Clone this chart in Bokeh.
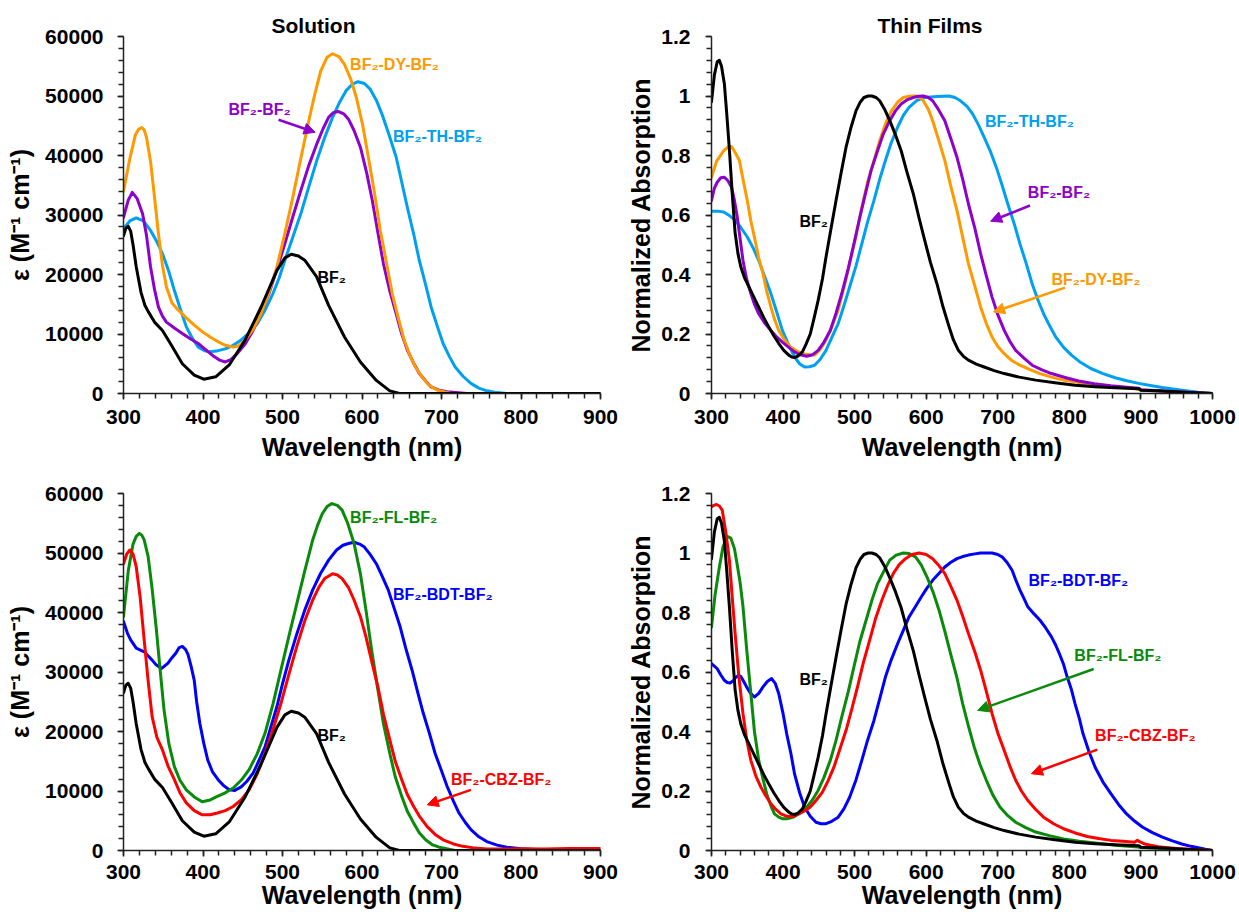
from bokeh.plotting import figure
from bokeh.layouts import column, row
from bokeh.models import Range1d, FixedTicker, Arrow, NormalHead, Title
from bokeh.core.properties import value
from bokeh.embed import file_html
from bokeh.resources import INLINE

# ---------------- colours ----------------
C_BLACK = "#000000"
C_ORANGE = "#FF9900"
C_SKY = "#00A0F0"
C_PURPLE = "#8E00CC"
C_GREEN = "#0A8A0A"
C_RED = "#FF0000"
C_BLUE = "#0000FF"

FONT = "Liberation Sans"

# ---------------- tick labels ----------------
sol_x_ticks = [300, 400, 500, 600, 700, 800, 900]
film_x_ticks = [300, 400, 500, 600, 700, 800, 900, 1000]
sol_y_ticks = [0, 10000, 20000, 30000, 40000, 50000, 60000]
film_y_ticks = [0, 0.2, 0.4, 0.6, 0.8, 1.0, 1.2]
film_y_labels = ["0", "0.2", "0.4", "0.6", "0.8", "1", "1.2"]

# ---------------- Solution data ----------------
sol_bf2_x = [300, 303, 306, 309, 312, 316, 322, 327, 331, 339, 349, 359, 374, 389, 401, 416, 433,
             453, 473, 493, 503, 511, 520, 528, 543, 558, 578, 598, 618, 635, 647, 700, 800, 900]
sol_bf2_y = [26500, 27800, 28100, 27300, 25000, 21300, 17000, 14800, 13800, 12000, 10600, 8400,
             5000, 3100, 2400, 2800, 4800, 9000, 14500, 20700, 22800, 23400, 23100, 22400, 19600,
             14800, 9500, 5300, 2200, 450, 0, 0, 0, 0]

sol_dy_x = [300, 308, 315, 319, 323, 326, 329, 334, 339, 344, 349, 354, 361, 369, 379, 389, 399,
            409, 419, 428, 438, 445, 453, 463, 473, 483, 493, 503, 513, 523, 533, 541, 548, 556,
            563, 571, 578, 586, 593, 601, 608, 616, 623, 631, 638, 646, 653, 660, 667, 675, 682,
            690, 697, 712, 800, 900]
sol_dy_y = [34000, 39500, 43500, 44400, 44700, 44300, 43000, 39000, 33000, 26800, 21500, 17900,
            15200, 14000, 12700, 11500, 10400, 9500, 8700, 8100, 7800, 8000, 9000, 10800, 13400,
            17000, 21300, 26900, 33000, 39500, 45800, 50500, 54200, 56500, 57100, 56600, 55300,
            52800, 49700, 45000, 39700, 33500, 27400, 21800, 16800, 12500, 9000, 6500, 4500, 2900,
            1700, 900, 450, 0, 0, 0]

sol_th_x = [300, 308, 316, 325, 334, 342, 349, 357, 364, 372, 379, 387, 394, 402, 409, 419, 428,
            438, 448, 458, 468, 478, 488, 496, 503, 513, 523, 533, 543, 553, 563, 572, 580, 588,
            595, 603, 610, 618, 625, 634, 643, 650, 657, 665, 672, 680, 687, 695, 702, 710, 717,
            727, 737, 747, 757, 770, 782, 900]
sol_th_y = [27700, 29000, 29500, 29000, 27400, 25500, 23500, 20500, 17300, 14000, 11200, 9200,
            7800, 7200, 7000, 7200, 7500, 8100, 9000, 10200, 11700, 14000, 16800, 19500, 22400,
            26300, 30200, 34700, 39100, 43000, 46400, 49000, 50900, 52000, 52400, 52100, 51200,
            49300, 47000, 43500, 39700, 35500, 31300, 26800, 22400, 18300, 14500, 11200, 8400,
            6200, 4500, 2900, 1700, 900, 450, 150, 0, 0]

sol_bb_x = [300, 306, 311, 317, 324, 329, 334, 339, 344, 349, 354, 364, 374, 384, 394, 404, 414,
            421, 428, 435, 443, 453, 463, 473, 483, 493, 503, 513, 523, 533, 543, 551, 558, 564,
            570, 577, 583, 590, 598, 606, 613, 620, 627, 635, 643, 650, 657, 665, 672, 680, 687,
            697, 707, 732, 900]
sol_bb_y = [29600, 32500, 33800, 32800, 30200, 26500, 21300, 17500, 14500, 13000, 12000, 11000,
            10100, 9200, 8400, 7300, 6200, 5600, 5300, 5700, 6700, 8300, 10600, 13500, 16800,
            20900, 25200, 29700, 34100, 38300, 41900, 44500, 46400, 47200, 47400, 47000, 46100,
            44200, 41400, 37000, 32400, 27000, 21800, 17200, 13400, 10000, 7300, 5100, 3400,
            2100, 1100, 550, 280, 0, 0]

sol_fl_x = [300, 306, 312, 316, 320, 323, 326, 331, 336, 341, 346, 351, 357, 364, 371, 379, 389,
            399, 409, 418, 428, 438, 448, 458, 468, 478, 488, 498, 508, 518, 528, 538, 544, 550,
            556, 562, 569, 575, 582, 590, 598, 605, 612, 620, 627, 635, 642, 650, 657, 665, 672,
            680, 688, 697, 717, 900]
sol_fl_y = [39300, 47000, 51500, 52800, 53300, 53000, 52200, 49400, 44000, 37600, 30500, 23600,
            18000, 14100, 11800, 10200, 9000, 8200, 8500, 9100, 9700, 10500, 11800, 13600, 16200,
            19700, 24600, 30300, 36000, 41500, 47000, 52200, 54600, 56600, 57800, 58300, 58000,
            57200, 55000, 51600, 46500, 40400, 33800, 27000, 21300, 16300, 12300, 9100, 6600,
            4600, 3000, 1800, 1000, 560, 0, 0]

sol_cbz_x = [300, 304, 308, 312, 316, 321, 326, 331, 336, 342, 349, 356, 364, 371, 379, 389, 399,
             409, 418, 428, 438, 448, 458, 468, 478, 488, 498, 508, 518, 528, 538, 546, 553, 563,
             569, 575, 583, 590, 598, 605, 612, 620, 627, 635, 642, 650, 657, 665, 673, 682, 692,
             702, 715, 727, 742, 757, 780, 800, 830, 860, 900]
sol_cbz_y = [48200, 49800, 50500, 49800, 47700, 42500, 35400, 28500, 22500, 19000, 16900, 14200,
             11900, 9700, 8000, 6700, 6000, 6000, 6300, 6700, 7400, 8500, 10200, 12800, 16300,
             20300, 24700, 29600, 34300, 38600, 42100, 44300, 45700, 46500, 46300, 45700, 44200,
             42100, 39300, 35900, 31900, 27500, 22900, 18600, 14900, 11900, 9400, 7400, 5600,
             4000, 2700, 1800, 1100, 700, 400, 250, 250, 300, 250, 350, 350]

sol_bdt_x = [300, 305, 309, 316, 326, 336, 341, 348, 356, 361, 366, 370, 374, 378, 381, 385, 389,
             392, 396, 401, 406, 412, 419, 426, 433, 440, 448, 455, 463, 470, 478, 485, 493, 500,
             508, 518, 528, 538, 548, 558, 568, 576, 583, 590, 597, 603, 610, 618, 625, 633, 640,
             648, 655, 663, 670, 677, 685, 692, 700, 707, 715, 722, 730, 737, 747, 757, 770, 782,
             800, 817, 840, 867, 900]
sol_bdt_y = [38500, 36500, 35400, 34000, 33400, 32000, 31200, 30600, 31500, 32400, 33200, 34100,
             34300, 33800, 33000, 31000, 28600, 25000, 21400, 18000, 15200, 13200, 11900, 10900,
             10200, 10100, 10700, 11600, 13000, 15000, 17400, 20600, 24200, 28000, 32000, 36400,
             40400, 43800, 46600, 48800, 50500, 51300, 51600, 51800, 51500, 51000, 49800, 48200,
             46200, 43800, 40900, 37600, 34000, 30300, 26600, 23100, 19600, 16300, 13400, 10800,
             8300, 6300, 4700, 3500, 2300, 1500, 900, 560, 300, 150, 80, 0, 0]

# ---------------- Thin film data ----------------
film_bf2_x = [300, 304, 308, 311, 314, 318, 321, 325, 329, 333, 337, 341, 346, 352, 359, 366, 373,
              380, 387, 394, 401, 408, 412, 416, 421, 427, 432, 438, 443, 449, 455, 460, 467, 474,
              481, 488, 495, 502, 508, 513, 519, 524, 530, 535, 542, 549, 557, 565, 573, 582, 590,
              598, 606, 615, 623, 632, 638, 645, 652, 659, 670, 681, 695, 709, 730, 753, 780, 808,
              836, 864, 897, 900, 930, 960, 1000]
film_bf2_y = [0.98, 1.07, 1.115, 1.12, 1.10, 1.04, 0.95, 0.82, 0.67, 0.54, 0.47, 0.425, 0.39, 0.36,
              0.325, 0.29, 0.255, 0.224, 0.194, 0.168, 0.145, 0.129, 0.123, 0.121, 0.126, 0.14,
              0.165, 0.20, 0.25, 0.313, 0.385, 0.459, 0.555, 0.649, 0.74, 0.828, 0.895, 0.951,
              0.98, 0.995, 1.0, 1.0, 0.995, 0.984, 0.955, 0.917, 0.87, 0.816, 0.745, 0.671, 0.59,
              0.514, 0.44, 0.369, 0.295, 0.224, 0.18, 0.145, 0.125, 0.112, 0.099, 0.089, 0.077,
              0.067, 0.055, 0.045, 0.036, 0.028, 0.023, 0.019, 0.016, 0.011, 0.008, 0.004, 0.0]

film_dy_x = [300, 307, 317, 324, 328, 333, 339, 344, 350, 355, 361, 366, 372, 377, 383, 388, 394,
             402, 410, 419, 427, 436, 444, 452, 460, 468, 477, 485, 493, 502, 510, 518, 527, 535,
             543, 551, 560, 568, 576, 585, 591, 596, 603, 609, 617, 626, 634, 643, 651, 659, 668,
             676, 684, 692, 700, 709, 720, 731, 745, 759, 775, 792, 814, 836, 864, 891, 900, 950,
             1000]
film_dy_y = [0.727, 0.78, 0.816, 0.83, 0.83, 0.81, 0.783, 0.72, 0.649, 0.58, 0.514, 0.455, 0.403,
             0.345, 0.291, 0.25, 0.212, 0.18, 0.157, 0.143, 0.134, 0.13, 0.129, 0.148, 0.179,
             0.225, 0.28, 0.355, 0.436, 0.53, 0.626, 0.71, 0.783, 0.85, 0.906, 0.948, 0.979,
             0.995, 0.999, 1.0, 0.995, 0.984, 0.955, 0.917, 0.855, 0.783, 0.70, 0.615, 0.525,
             0.436, 0.36, 0.291, 0.235, 0.19, 0.158, 0.134, 0.11, 0.095, 0.08, 0.067, 0.055,
             0.045, 0.036, 0.028, 0.022, 0.017, 0.012, 0.005, 0.0]

film_bb_x = [300, 304, 308, 313, 318, 323, 328, 332, 336, 340, 344, 349, 355, 360, 366, 374, 383,
             391, 399, 408, 416, 424, 433, 441, 449, 457, 466, 474, 482, 491, 499, 507, 515, 523,
             532, 540, 549, 557, 565, 574, 582, 589, 596, 603, 609, 617, 626, 634, 643, 651, 659,
             668, 676, 684, 692, 700, 709, 717, 725, 737, 748, 761, 775, 794, 813, 835, 858, 880,
             897, 900, 950, 1000]
film_bb_y = [0.649, 0.69, 0.71, 0.725, 0.727, 0.715, 0.693, 0.65, 0.593, 0.52, 0.447, 0.385, 0.336,
             0.30, 0.268, 0.238, 0.212, 0.19, 0.173, 0.155, 0.14, 0.13, 0.125, 0.13, 0.145, 0.172,
             0.212, 0.27, 0.336, 0.42, 0.503, 0.59, 0.671, 0.75, 0.816, 0.872, 0.917, 0.95, 0.973,
             0.988, 0.995, 0.999, 1.0, 0.995, 0.984, 0.955, 0.917, 0.86, 0.794, 0.72, 0.637, 0.555,
             0.47, 0.395, 0.324, 0.265, 0.212, 0.175, 0.145, 0.118, 0.095, 0.08, 0.067, 0.054,
             0.042, 0.033, 0.026, 0.021, 0.018, 0.013, 0.006, 0.0]

film_th_x = [300, 308, 317, 325, 333, 341, 350, 358, 366, 374, 383, 391, 399, 408, 416, 423, 430,
             437, 444, 452, 460, 468, 477, 485, 493, 502, 510, 518, 527, 535, 543, 551, 560, 568,
             576, 587, 598, 615, 632, 640, 648, 657, 665, 673, 681, 690, 698, 706, 714, 723, 731,
             740, 748, 756, 764, 773, 781, 792, 803, 816, 830, 847, 864, 880, 897, 913, 930, 947,
             963, 980, 1000]
film_th_y = [0.613, 0.613, 0.61, 0.598, 0.582, 0.558, 0.526, 0.49, 0.447, 0.395, 0.336, 0.275,
             0.212, 0.163, 0.123, 0.1, 0.089, 0.09, 0.095, 0.115, 0.145, 0.188, 0.235, 0.295,
             0.358, 0.43, 0.503, 0.576, 0.649, 0.72, 0.783, 0.842, 0.895, 0.935, 0.962, 0.985,
             0.995, 0.998, 1.0, 0.995, 0.984, 0.965, 0.939, 0.903, 0.861, 0.812, 0.76, 0.70,
             0.637, 0.57, 0.503, 0.435, 0.369, 0.315, 0.268, 0.225, 0.19, 0.155, 0.129, 0.104,
             0.084, 0.067, 0.053, 0.043, 0.034, 0.027, 0.02, 0.014, 0.009, 0.004, 0.0]

film_cbz_x = [300, 303, 307, 311, 315, 320, 325, 329, 333, 338, 344, 349, 355, 362, 369, 376, 383,
              390, 397, 403, 408, 415, 422, 430, 438, 446, 455, 463, 471, 479, 488, 496, 504, 512,
              521, 529, 538, 546, 554, 562, 571, 580, 590, 600, 609, 617, 626, 634, 643, 651, 659,
              668, 676, 684, 692, 700, 709, 717, 725, 733, 742, 753, 764, 778, 792, 808, 825, 841,
              858, 875, 891, 895, 898, 905, 924, 950, 975, 1000]
film_cbz_y = [1.155, 1.16, 1.163, 1.158, 1.144, 1.07, 0.976, 0.85, 0.729, 0.59, 0.46, 0.375, 0.303,
              0.25, 0.213, 0.183, 0.157, 0.138, 0.123, 0.117, 0.114, 0.116, 0.123, 0.133, 0.146,
              0.168, 0.196, 0.235, 0.28, 0.338, 0.404, 0.475, 0.55, 0.63, 0.707, 0.778, 0.841,
              0.89, 0.931, 0.96, 0.981, 0.995, 1.0, 0.995, 0.981, 0.96, 0.931, 0.89, 0.841, 0.787,
              0.729, 0.667, 0.606, 0.535, 0.46, 0.395, 0.336, 0.283, 0.236, 0.2, 0.168, 0.138,
              0.112, 0.09, 0.073, 0.059, 0.047, 0.04, 0.034, 0.031, 0.028, 0.034, 0.03, 0.022,
              0.013, 0.007, 0.003, 0.0]

film_fl_x = [300, 305, 311, 316, 322, 327, 332, 336, 340, 344, 349, 355, 360, 366, 372, 377, 383,
             388, 394, 399, 405, 410, 416, 424, 433, 441, 449, 457, 466, 474, 482, 491, 499, 507,
             516, 524, 532, 541, 549, 558, 568, 576, 585, 593, 601, 610, 618, 626, 634, 643, 651,
             659, 667, 675, 684, 693, 703, 714, 725, 739, 753, 772, 792, 814, 836, 864, 891, 900,
             950, 1000]
film_fl_y = [0.751, 0.86, 0.953, 1.02, 1.056, 1.05, 1.015, 0.96, 0.9, 0.82, 0.68, 0.527, 0.4,
             0.303, 0.24, 0.191, 0.15, 0.123, 0.112, 0.107, 0.107, 0.109, 0.114, 0.127, 0.146,
             0.17, 0.202, 0.245, 0.303, 0.37, 0.449, 0.533, 0.617, 0.7, 0.774, 0.84, 0.897, 0.94,
             0.976, 0.993, 1.0, 0.998, 0.987, 0.96, 0.92, 0.866, 0.807, 0.737, 0.662, 0.58, 0.493,
             0.418, 0.348, 0.29, 0.236, 0.187, 0.146, 0.117, 0.095, 0.077, 0.062, 0.05, 0.039,
             0.031, 0.025, 0.018, 0.013, 0.01, 0.004, 0.0]

film_bdt_x = [300, 304, 308, 313, 318, 322, 326, 330, 334, 338, 341, 345, 349, 354, 360, 366, 372,
              378, 384, 389, 394, 400, 405, 411, 416, 423, 430, 438, 446, 453, 460, 468, 477, 485,
              493, 502, 510, 518, 527, 535, 543, 551, 560, 568, 576, 585, 593, 601, 609, 618, 626,
              634, 643, 651, 659, 668, 676, 684, 692, 700, 706, 713, 720, 725, 731, 737, 742, 750,
              759, 767, 775, 781, 786, 792, 797, 803, 808, 814, 819, 827, 836, 847, 858, 869, 880,
              891, 902, 916, 930, 943, 957, 970, 980, 990, 1000]
film_bdt_y = [0.628, 0.62, 0.611, 0.59, 0.572, 0.565, 0.563, 0.57, 0.582, 0.589, 0.585, 0.568,
              0.55, 0.53, 0.516, 0.528, 0.55, 0.568, 0.578, 0.562, 0.527, 0.46, 0.393, 0.325,
              0.258, 0.195, 0.146, 0.115, 0.095, 0.09, 0.09, 0.098, 0.112, 0.14, 0.179, 0.238,
              0.303, 0.37, 0.437, 0.51, 0.583, 0.64, 0.695, 0.74, 0.785, 0.82, 0.852, 0.882,
              0.908, 0.932, 0.953, 0.968, 0.981, 0.988, 0.993, 0.997, 1.0, 1.0, 1.0, 0.995, 0.987,
              0.968, 0.942, 0.91, 0.875, 0.845, 0.819, 0.797, 0.774, 0.748, 0.718, 0.69, 0.662,
              0.625, 0.583, 0.54, 0.493, 0.443, 0.393, 0.335, 0.28, 0.23, 0.191, 0.154, 0.123,
              0.099, 0.079, 0.06, 0.045, 0.033, 0.022, 0.014, 0.009, 0.004, 0.0]

# ---------------- annotations (label text, x, y, colour) ----------------
sol_top_labels = [("BF\u2082-DY-BF\u2082", 585, 55250, C_ORANGE),
                  ("BF\u2082-TH-BF\u2082", 639, 43230, C_SKY),
                  ("BF\u2082-BF\u2082", 432, 47800, C_PURPLE),
                  ("BF\u2082", 544, 19460, C_BLACK)]
sol_top_arrows = [(495, 46000, 541, 43900, C_PURPLE)]

film_top_labels = [("BF\u2082-TH-BF\u2082", 682, 0.915, C_SKY),
                   ("BF\u2082-BF\u2082", 742, 0.674, C_PURPLE),
                   ("BF\u2082-DY-BF\u2082", 775, 0.384, C_ORANGE),
                   ("BF\u2082", 423, 0.579, C_BLACK)]
film_top_arrows = [(745, 0.632, 690, 0.579, C_PURPLE),
                   (794, 0.356, 694, 0.274, C_ORANGE)]

sol_bot_labels = [("BF\u2082-FL-BF\u2082", 585, 55970, C_GREEN),
                  ("BF\u2082-BDT-BF\u2082", 639, 43100, C_BLUE),
                  ("BF\u2082", 544, 19310, C_BLACK),
                  ("BF\u2082-CBZ-BF\u2082", 712, 11870, C_RED)]
sol_bot_arrows = [(737, 10190, 682, 7670, C_RED)]

film_bot_labels = [("BF\u2082-BDT-BF\u2082", 743, 0.906, C_BLUE),
                   ("BF\u2082-FL-BF\u2082", 807, 0.654, C_GREEN),
                   ("BF\u2082-CBZ-BF\u2082", 836, 0.385, C_RED),
                   ("BF\u2082", 423, 0.575, C_BLACK)]
film_bot_arrows = [(834, 0.610, 672, 0.471, C_GREEN),
                   (839, 0.339, 747, 0.258, C_RED)]


def make_fig(xmax, ymax, xticks, yticks, ylabel, left, fw, right, top, bottom,
             ylab_standoff, ytick_standoff, minor_y, xtick_standoff, xlab_standoff, ylabels=None):
    p = figure(frame_width=fw, frame_height=357,
               min_border_left=left, min_border_right=right,
               min_border_top=top, min_border_bottom=bottom,
               x_range=Range1d(300, xmax), y_range=Range1d(0, ymax),
               output_backend="svg", toolbar_location=None)
    p.grid.visible = False
    p.outline_line_color = None
    p.background_fill_color = "white"
    p.border_fill_color = "white"
    p.xaxis.ticker = FixedTicker(ticks=xticks, minor_ticks=list(range(300, xmax + 1, 20)))
    p.yaxis.ticker = FixedTicker(ticks=yticks, minor_ticks=minor_y)
    if ylabels is not None:
        p.yaxis.major_label_overrides = {t: l for t, l in zip(yticks, ylabels)}
    for ax in (p.xaxis[0], p.yaxis[0]):
        ax.axis_line_width = 1.5
        ax.axis_line_color = "#222222"
        ax.major_tick_line_width = 1.5
        ax.minor_tick_line_width = 1.5
        ax.major_tick_line_color = "#222222"
        ax.minor_tick_line_color = "#222222"
        ax.major_tick_out = 6
        ax.major_tick_in = 0
        ax.minor_tick_out = 5
        ax.minor_tick_in = 0
        ax.major_label_text_font = FONT
        ax.major_label_text_font_size = "21px"
        ax.major_label_text_font_style = "bold"
        ax.major_label_text_color = "black"
        ax.axis_label_text_font = FONT
        ax.axis_label_text_font_size = "25px"
        ax.axis_label_text_font_style = "bold"
        ax.axis_label_text_color = "black"
    p.xaxis.major_label_standoff = xtick_standoff
    p.xaxis.axis_label = "Wavelength (nm)"
    p.xaxis.axis_label_standoff = xlab_standoff
    p.yaxis.major_label_standoff = ytick_standoff
    p.yaxis.axis_label = ylabel
    p.yaxis.axis_label_standoff = ylab_standoff
    return p


def add_curves(p, series):
    for xs, ys, c in series:
        p.line(xs, ys, line_color=c, line_width=3, line_join="round", line_cap="round")


def add_notes(p, labels, arrows):
    for (t, x, y, c) in labels:
        p.text(x=[x], y=[y], text=[t], text_color=c, text_font=value(FONT),
               text_font_size=value("16px"), text_font_style="bold",
               text_align="left", text_baseline="middle")
    for (x0, y0, x1, y1, c) in arrows:
        p.add_layout(Arrow(end=NormalHead(size=11, fill_color=c, line_color=c, line_width=1),
                           x_start=x0, y_start=y0, x_end=x1, y_end=y1,
                           line_color=c, line_width=2.5))


sol_minor = list(range(0, 60001, 2000))
film_minor = [round(i * 0.04, 2) for i in range(31)]
EPS = "\u03b5 (M\u207b\u00b9 cm\u207b\u00b9)"

# top-left
p1 = make_fig(900, 60000, sol_x_ticks, sol_y_ticks, EPS, 123, 477, 20, 36, 78, 8, 14, sol_minor, 10, 6)
p1.add_layout(Title(text="Solution", align="left", offset=148, text_font=FONT,
                    text_font_size="21px", text_font_style="bold", text_color="black",
                    standoff=0), "above")
add_curves(p1, [(sol_th_x, sol_th_y, C_SKY), (sol_bb_x, sol_bb_y, C_PURPLE),
                (sol_dy_x, sol_dy_y, C_ORANGE), (sol_bf2_x, sol_bf2_y, C_BLACK)])
add_notes(p1, sol_top_labels, sol_top_arrows)

# top-right
p2 = make_fig(1000, 1.2, film_x_ticks, film_y_ticks, "Normalized Absorption", 91, 501, 26, 36, 78,
              3, 15, film_minor, 10, 6, film_y_labels)
p2.add_layout(Title(text="Thin Films", align="left", offset=166, text_font=FONT,
                    text_font_size="21px", text_font_style="bold", text_color="black",
                    standoff=0), "above")
add_curves(p2, [(film_th_x, film_th_y, C_SKY), (film_dy_x, film_dy_y, C_ORANGE),
                (film_bb_x, film_bb_y, C_PURPLE), (film_bf2_x, film_bf2_y, C_BLACK)])
add_notes(p2, film_top_labels, film_top_arrows)

# bottom-left
p3 = make_fig(900, 60000, sol_x_ticks, sol_y_ticks, EPS, 123, 477, 20, 22, 69, 8, 14, sol_minor, 8, -1)
add_curves(p3, [(sol_bdt_x, sol_bdt_y, C_BLUE), (sol_fl_x, sol_fl_y, C_GREEN),
                (sol_cbz_x, sol_cbz_y, C_RED), (sol_bf2_x, sol_bf2_y, C_BLACK)])
add_notes(p3, sol_bot_labels, sol_bot_arrows)

# bottom-right
p4 = make_fig(1000, 1.2, film_x_ticks, film_y_ticks, "Normalized Absorption", 91, 501, 26, 22, 69,
              3, 15, film_minor, 8, -1, film_y_labels)
add_curves(p4, [(film_bdt_x, film_bdt_y, C_BLUE), (film_fl_x, film_fl_y, C_GREEN),
                (film_cbz_x, film_cbz_y, C_RED), (film_bf2_x, film_bf2_y, C_BLACK)])
add_notes(p4, film_bot_labels, film_bot_arrows)

layout = column(row(p1, p2), row(p3, p4))
open("out.html", "w").write(file_html(layout, INLINE))
